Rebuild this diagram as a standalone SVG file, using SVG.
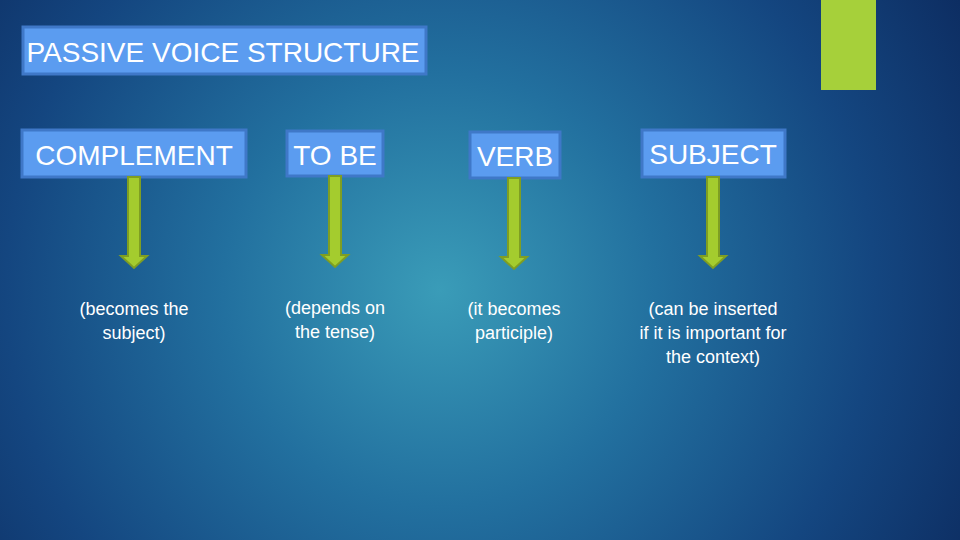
<svg xmlns="http://www.w3.org/2000/svg" width="960" height="540" viewBox="0 0 960 540">
<defs>
<radialGradient id="bg" cx="440" cy="290" r="620" gradientUnits="userSpaceOnUse">
<stop offset="0" stop-color="#3a9cb8"/>
<stop offset="0.35" stop-color="#22709f"/>
<stop offset="0.7" stop-color="#144680"/>
<stop offset="1" stop-color="#0c2a5e"/>
</radialGradient>
<path id="arr" d="M-6,0 H6 V79 H13 L0,91 L-13,79 H-6 Z"/>
</defs>
<style>
.box{fill:#5b9cf0;stroke:#3f78c8;stroke-width:3}
.t{font-family:"Liberation Sans",Arial,sans-serif;fill:#fff;font-size:28px;text-anchor:middle}
.s{font-family:"Liberation Sans",Arial,sans-serif;fill:#fff;font-size:18px;text-anchor:middle}
.a{fill:#a4cc2e;stroke:#7f9e22;stroke-width:2}
</style>
<rect width="960" height="540" fill="url(#bg)"/>
<rect x="821" y="0" width="55" height="90" fill="#a6d03a"/>
<g id="title"><rect class="box" x="23" y="27" width="403" height="47"/><text class="t" x="223" y="62">PASSIVE VOICE STRUCTURE</text></g>
<g id="complement"><rect class="box" x="22" y="130" width="224" height="47"/><text class="t" x="134" y="165">COMPLEMENT</text>
<text class="s" x="134" y="315">(becomes the</text><text class="s" x="134" y="339">subject)</text></g>
<g id="tobe"><rect class="box" x="287" y="131" width="96" height="45"/><text class="t" x="335" y="165">TO BE</text>
<text class="s" x="335" y="314">(depends on</text><text class="s" x="335" y="338">the tense)</text></g>
<g id="verb"><rect class="box" x="470" y="132" width="90" height="46"/><text class="t" x="515" y="166">VERB</text>
<text class="s" x="514" y="315">(it becomes</text><text class="s" x="514" y="339">participle)</text></g>
<g id="subject"><rect class="box" x="642" y="130" width="143" height="47"/><text class="t" x="713" y="164">SUBJECT</text>
<text class="s" x="713" y="315">(can be inserted</text><text class="s" x="713" y="339">if it is important for</text><text class="s" x="713" y="363">the context)</text></g>
<g id="connectors">
<use href="#arr" class="a" x="134" y="177"/>
<use href="#arr" class="a" x="335" y="176"/>
<use href="#arr" class="a" x="514" y="178"/>
<use href="#arr" class="a" x="713" y="177"/>
</g>
</svg>
